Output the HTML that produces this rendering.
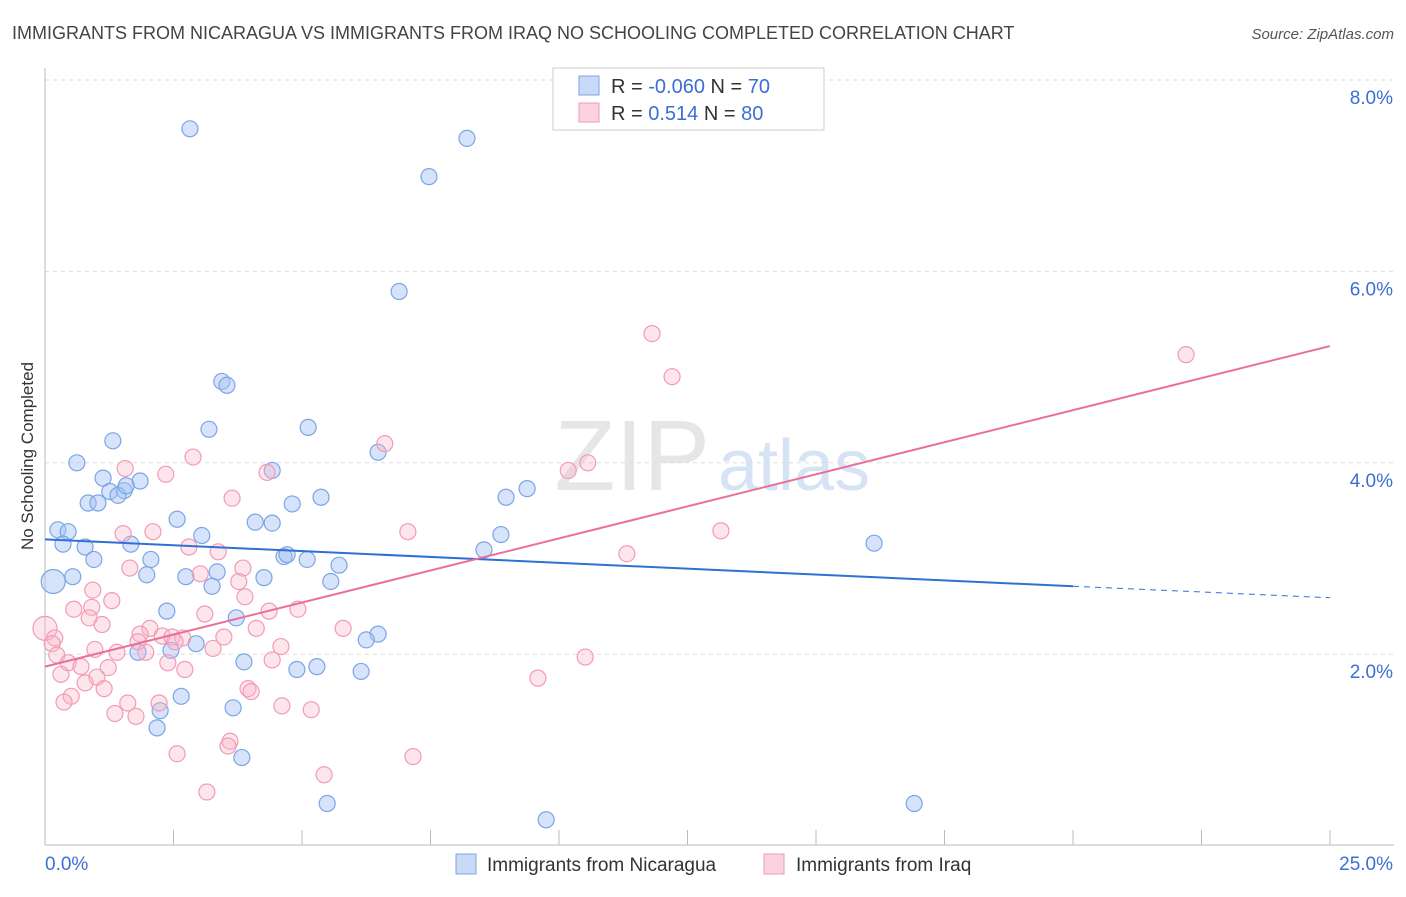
<!DOCTYPE html>
<html><head><meta charset="utf-8">
<style>
body{margin:0;background:#fff;font-family:"Liberation Sans",sans-serif;}
svg text{font-family:"Liberation Sans",sans-serif;}
</style></head>
<body>
<svg id="chart" width="1406" height="892" viewBox="0 0 1406 892" xmlns="http://www.w3.org/2000/svg">
<text x="12" y="39" font-size="18" fill="#444">IMMIGRANTS FROM NICARAGUA VS IMMIGRANTS FROM IRAQ NO SCHOOLING COMPLETED CORRELATION CHART</text>
<text x="1394" y="39" font-size="15" fill="#555" text-anchor="end" font-style="italic">Source: ZipAtlas.com</text>
<text x="710" y="490" font-size="100" fill="#e6e6e6" text-anchor="end" font-family="Liberation Serif">ZIP</text>
<text x="718" y="490" font-size="72" fill="#d6e3f5">atlas</text>
<g id="grid"></g>
<g id="axes"></g>
<g id="marks"></g>
<text transform="translate(33,456) rotate(-90)" font-size="17" fill="#333" text-anchor="middle">No Schooling Completed</text>
<g>
<rect x="553" y="68" width="271" height="62" fill="#fff" stroke="#ccc"/>
<rect x="579" y="76" width="20" height="19" fill="rgba(164,194,244,0.6)" stroke="#7aa6e6"/>
<rect x="579" y="103" width="20" height="19" fill="rgba(248,180,200,0.6)" stroke="#f29bb5"/>
<text x="611" y="93" font-size="20" fill="#333">R = <tspan fill="#3b6fd4">-0.060</tspan>   N = <tspan fill="#3b6fd4">70</tspan></text>
<text x="611" y="120" font-size="20" fill="#333">R =   <tspan fill="#3b6fd4">0.514</tspan>   N = <tspan fill="#3b6fd4">80</tspan></text>
</g>
<g>
<rect x="456" y="854" width="20" height="20" fill="rgba(164,194,244,0.6)" stroke="#7aa6e6"/>
<text x="487" y="871" font-size="19" fill="#333">Immigrants from Nicaragua</text>
<rect x="764" y="854" width="20" height="20" fill="rgba(248,180,200,0.6)" stroke="#f29bb5"/>
<text x="796" y="871" font-size="19" fill="#333">Immigrants from Iraq</text>
</g>
</svg>
<script>
const blueX=[2.82,8.21,7.47,6.89,3.44,3.54,5.12,3.19,1.32,6.48,0.62,4.42,1.13,1.85,1.26,1.54,1.42,1.58,5.37,8.97,9.38,0.84,1.03,4.81,2.57,4.09,4.42,0.25,0.45,3.05,8.87,0.35,1.67,0.78,16.13,8.54,0.95,2.06,4.65,4.71,5.10,5.72,3.35,1.98,2.74,0.54,4.26,5.56,0.16,3.25,2.37,3.72,6.48,6.25,2.94,2.45,1.81,3.87,5.29,4.90,6.15,2.65,3.66,2.24,2.18,3.83,5.49,16.91,9.75];
const blueY=[7.49,7.39,6.99,5.79,4.85,4.81,4.37,4.35,4.23,4.11,4.00,3.92,3.84,3.81,3.70,3.71,3.66,3.76,3.64,3.64,3.73,3.58,3.58,3.57,3.41,3.38,3.37,3.30,3.28,3.24,3.25,3.15,3.15,3.12,3.16,3.09,2.99,2.99,3.02,3.04,2.99,2.93,2.86,2.83,2.81,2.81,2.80,2.76,2.76,2.71,2.45,2.38,2.21,2.15,2.11,2.04,2.02,1.92,1.87,1.84,1.82,1.56,1.44,1.41,1.23,0.92,0.44,0.44,0.27];
const pinkX=[11.81,22.20,12.20,6.61,2.88,10.56,1.56,2.35,10.18,4.32,3.64,7.06,13.15,1.52,2.10,2.80,3.37,11.32,1.65,3.85,3.02,3.77,1.30,0.56,0.91,4.92,4.36,3.11,0.86,1.11,4.11,5.80,2.04,0.00,1.85,2.28,2.47,2.68,3.48,1.81,0.19,4.59,0.14,2.53,3.27,0.97,1.40,0.23,1.96,4.42,10.51,0.45,0.70,2.39,2.72,1.23,0.31,1.01,0.78,9.59,1.15,0.51,3.95,4.01,0.37,2.22,1.61,1.36,1.77,4.61,5.18,3.60,3.56,2.57,7.16,5.43,3.15,0.93,3.89];
const pinkY=[5.35,5.13,4.90,4.20,4.06,4.00,3.94,3.88,3.92,3.90,3.63,3.28,3.29,3.26,3.28,3.12,3.07,3.05,2.90,2.90,2.84,2.76,2.56,2.47,2.49,2.47,2.45,2.42,2.38,2.31,2.27,2.27,2.27,2.27,2.21,2.19,2.18,2.17,2.18,2.13,2.17,2.08,2.11,2.13,2.06,2.05,2.02,1.99,2.02,1.94,1.97,1.91,1.87,1.91,1.84,1.86,1.79,1.76,1.70,1.75,1.64,1.56,1.64,1.61,1.50,1.49,1.49,1.38,1.35,1.46,1.42,1.09,1.04,0.96,0.93,0.74,0.56,2.67,2.60];
const yTicks=[2,4,6,8];
const yTickLabels=["2.0%","4.0%","6.0%","8.0%"];
const xTickCount=10;
const blueTrend=[3.20,2.71,2.59];
const pinkTrend=[1.87,5.22];
const NS="http://www.w3.org/2000/svg";
const X=v=>45+v*51.4, Y=v=>845.6-v*95.7;
function mk(t,a,p){const e=document.createElementNS(NS,t);for(const k in a)e.setAttribute(k,a[k]);p.appendChild(e);return e;}
const grid=document.getElementById('grid'),axes=document.getElementById('axes'),marks=document.getElementById('marks');
yTicks.forEach((t,i)=>{
 const l=mk('line',{x1:45,x2:1394,y1:Y(t),y2:Y(t),stroke:'#ddd','stroke-dasharray':'4,4'},grid);
 
 
 const tx=mk('text',{x:1393,y:Y(t)+24,'font-size':19,fill:'#3b6fd4','text-anchor':'end'},axes);tx.textContent=yTickLabels[i];
 
 
});
const ax=mk('line',{x1:45,x2:1394,y1:845,y2:845,stroke:'#bbb'},axes);


const ay=mk('line',{x1:45,x2:45,y1:68,y2:845,stroke:'#bbb'},axes);


for(let i=0;i<=xTickCount;i++){const v=25*i/xTickCount;const t=mk('line',{x1:X(v),x2:X(v),y1:830,y2:845,stroke:'#bbb'},axes);
 
 }
const xl=mk('text',{x:45,y:870,'font-size':19,fill:'#3b6fd4'},axes);xl.textContent='0.0%';


const xr=mk('text',{x:1393,y:870,'font-size':19,fill:'#3b6fd4','text-anchor':'end'},axes);xr.textContent='25.0%';


function pts(xs,ys,fill,stroke,name){xs.forEach((x,i)=>{const big=(x<0.2&&name==='point-nicaragua')||(x===0&&name==='point-iraq');
 const c=mk('circle',{cx:X(x),cy:Y(ys[i]),r:big?12:8,fill:fill,stroke:stroke,'stroke-width':1.2},marks);
 
 });}
pts(blueX,blueY,'rgba(164,194,244,0.45)','#7aa6e6','point-nicaragua');
pts(pinkX,pinkY,'rgba(248,180,200,0.35)','#f29bb5','point-iraq');
const b1=mk('line',{x1:X(0),y1:Y(blueTrend[0]),x2:X(20),y2:Y(blueTrend[1]),stroke:'#2f6fd6','stroke-width':2},marks);


const b2=mk('line',{x1:X(20),y1:Y(blueTrend[1]),x2:X(25),y2:Y(blueTrend[2]),stroke:'#2f6fd6','stroke-width':1,'stroke-dasharray':'6,5'},marks);


const p1=mk('line',{x1:X(0),y1:Y(pinkTrend[0]),x2:X(25),y2:Y(pinkTrend[1]),stroke:'#e8709a','stroke-width':2},marks);


</script>
</body></html>
